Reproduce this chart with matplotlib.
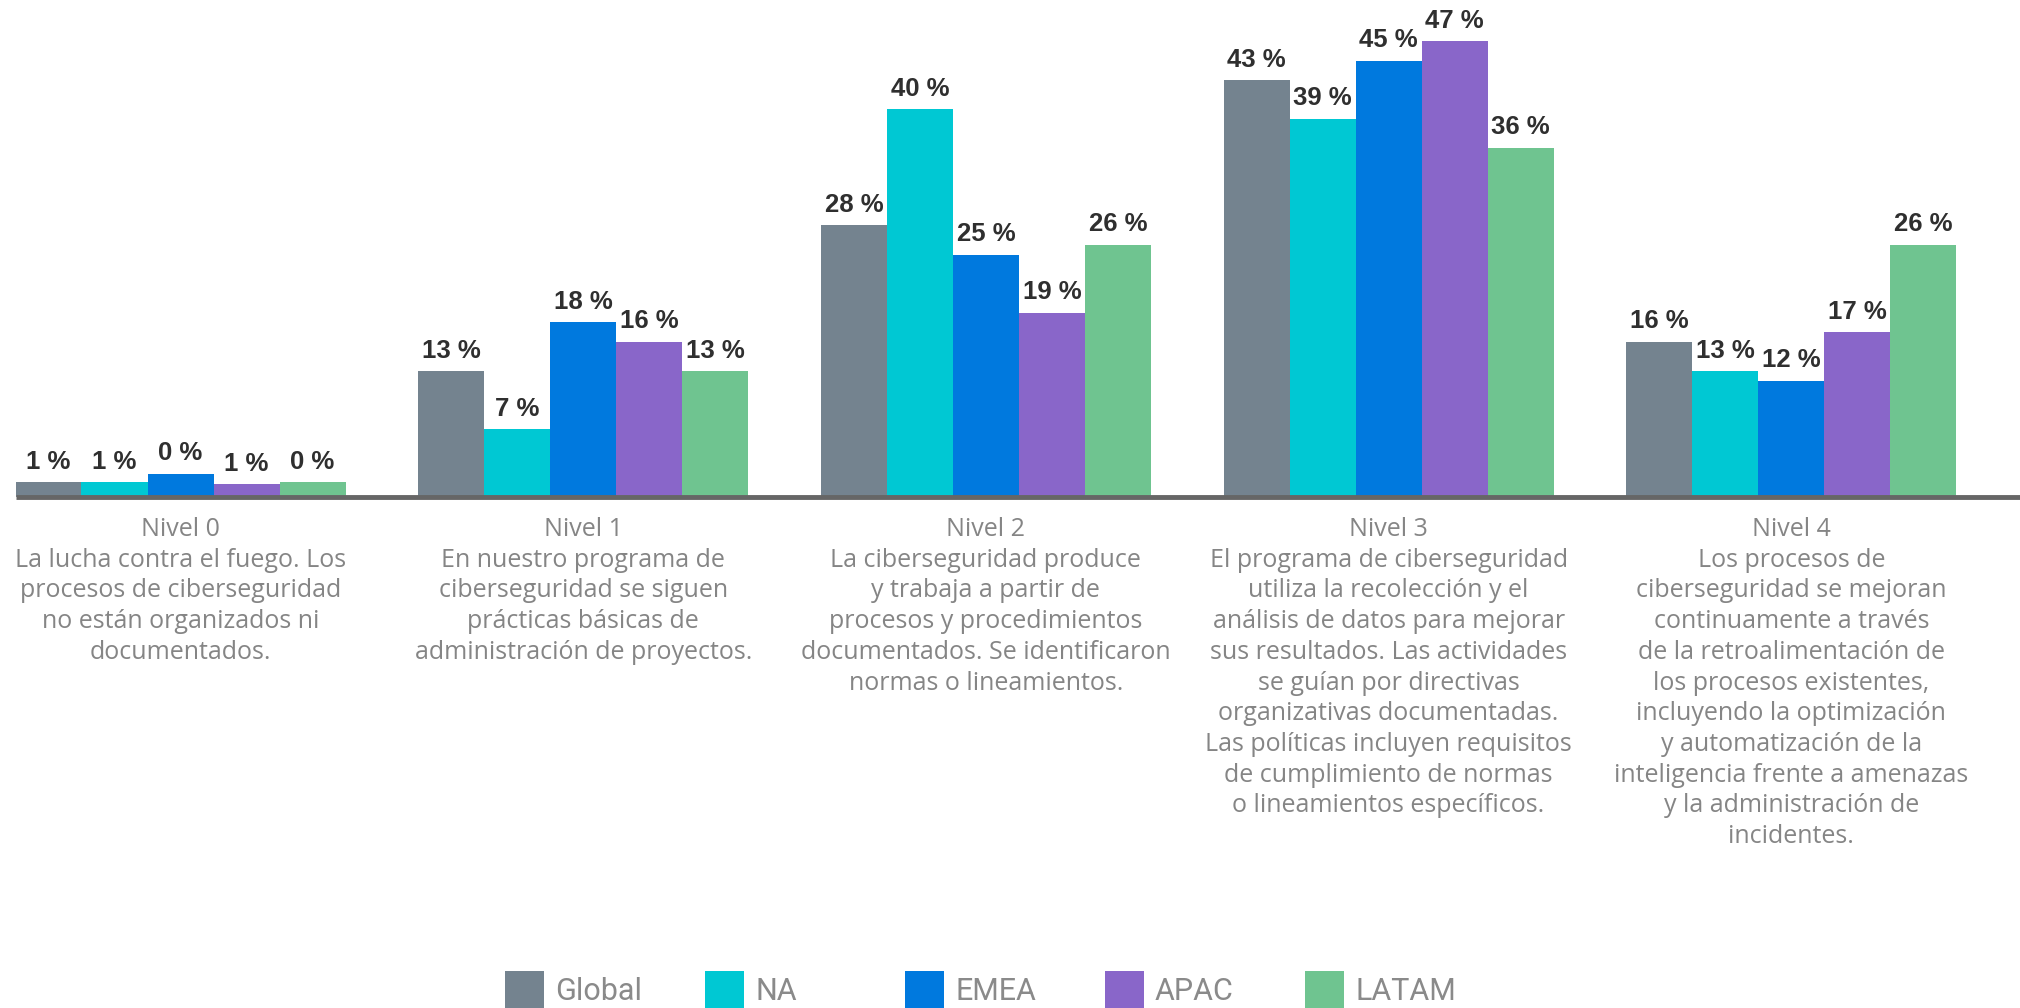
import matplotlib.pyplot as plt
from matplotlib.patches import Rectangle

# datos
niveles = ['Nivel 0', 'Nivel 1', 'Nivel 2', 'Nivel 3', 'Nivel 4']
descripciones = [
    "La lucha contra el fuego. Los\nprocesos de ciberseguridad\nno están organizados ni\ndocumentados.",
    "En nuestro programa de\nciberseguridad se siguen\nprácticas básicas de\nadministración de proyectos.",
    "La ciberseguridad produce\ny trabaja a partir de\nprocesos y procedimientos\ndocumentados. Se identificaron\nnormas o lineamientos.",
    "El programa de ciberseguridad\nutiliza la recolección y el\nanálisis de datos para mejorar\nsus resultados. Las actividades\nse guían por directivas\norganizativas documentadas.\nLas políticas incluyen requisitos\nde cumplimiento de normas\no lineamientos específicos.",
    "Los procesos de\nciberseguridad se mejoran\ncontinuamente a través\nde la retroalimentación de\nlos procesos existentes,\nincluyendo la optimización\ny automatización de la\ninteligencia frente a amenazas\ny la administración de\nincidentes.",
]
regiones = ['Global', 'NA', 'EMEA', 'APAC', 'LATAM']
colores = ['#74838f', '#00c8d3', '#0079de', '#8966c9', '#6fc490']

global_pct = [1, 13, 28, 43, 16]
na_pct = [1, 7, 40, 39, 13]
emea_pct = [0, 18, 25, 45, 12]
apac_pct = [1, 16, 19, 47, 17]
latam_pct = [0, 13, 26, 36, 26]
# alturas de las barras del Nivel 0 tal como se ven (el redondeo no coincide)
nivel0_alturas = [1.5, 1.5, 2.4, 1.3, 1.5]

series = [global_pct, na_pct, emea_pct, apac_pct, latam_pct]

W, H = 2020, 1008
fig = plt.figure(figsize=(W / 100, H / 100), dpi=100)
base_px = 497
ax = fig.add_axes([0, (H - base_px) / H, 1, base_px / H])

paso = 402.7
centro0 = 180.5
ancho = 66 / paso
ax.set_xlim(-centro0 / paso, (W - centro0) / paso)
ax.set_ylim(0, base_px / 9.70)
ax.axis('off')

for j, (nombre, pct, color) in enumerate(zip(regiones, series, colores)):
    alturas = [nivel0_alturas[j]] + pct[1:]
    xs = [i + (j - 2) * ancho for i in range(len(niveles))]
    ax.bar(xs, alturas, width=ancho, color=color, linewidth=0)
    for x, h, p in zip(xs, alturas, pct):
        ax.annotate(f'{p} %', (x, h), xytext=(0, 6), textcoords='offset points',
                    ha='center', va='bottom', fontsize=18.5, fontweight='bold',
                    family=['Liberation Sans', 'DejaVu Sans'], color='#2f2f2f')

# linea base
ax.plot([-2.5 * ancho, (W - centro0) / paso], [0, 0], color='#666666',
        linewidth=3.5, solid_capstyle='butt', clip_on=False)

# textos de categoria
for i, (niv, desc) in enumerate(zip(niveles, descripciones)):
    xf = (centro0 + paso * i) / W
    fig.text(xf, (H - 517) / H, niv + '\n' + desc, ha='center', va='top',
             fontsize=18, family=['Open Sans', 'DejaVu Sans'], color='#858585',
             linespacing=1.3)

# leyenda
for j, (nombre, color) in enumerate(zip(regiones, colores)):
    x0 = 505 + 200 * j
    fig.add_artist(Rectangle((x0 / W, 0), 39 / W, (H - 971) / H,
                             transform=fig.transFigure, color=color, linewidth=0))
    fig.text((x0 + 50) / W, 8 / H, nombre, ha='left', va='baseline',
             fontsize=22, family=['Roboto', 'DejaVu Sans'],
             color='#8a8a8a')

fig.savefig('out.png', dpi=100, facecolor='white')
